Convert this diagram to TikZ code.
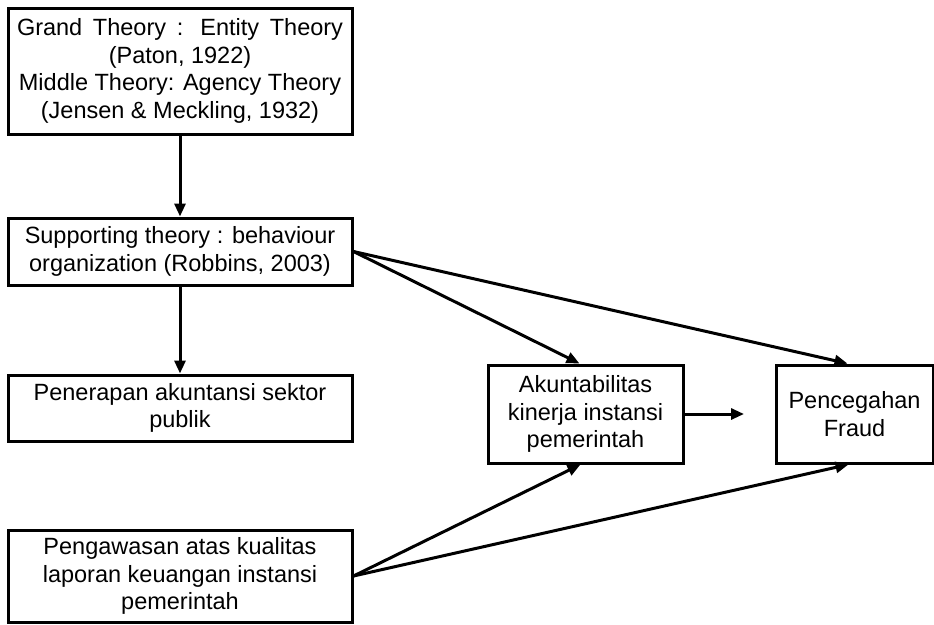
\documentclass[tikz,border=0pt]{standalone}
\usepackage{fontspec}
\setmainfont{Liberation Sans}
\usetikzlibrary{arrows.meta}
\begin{document}
\begin{tikzpicture}[x=1pt,y=1pt,
  box/.style={draw=black, line width=3pt, fill=white, inner sep=0pt, align=center,
    font=\fontsize{23.5}{27.5}\selectfont, text=black},
  conn/.style={line width=3pt, -{Triangle[length=13pt,width=11pt]}}]
\useasboundingbox (0,0) rectangle (934,-624);
\node[box, minimum width=344, minimum height=126] (grand) at (180,-71)
  {\makebox[326pt][s]{Grand Theory : Entity Theory}\\(Paton, 1922)\\Middle Theory: Agency Theory\\(Jensen \& Meckling, 1932)};
\node[box, minimum width=344, minimum height=67] (sup) at (180,-251.5)
  {Supporting theory : behaviour\\organization (Robbins, 2003)};
\node[box, minimum width=344, minimum height=66] (pen) at (180,-408)
  {Penerapan akuntansi sektor\\publik};
\node[box, minimum width=344, minimum height=92] (peng) at (180,-576)
  {Pengawasan atas kualitas\\laporan keuangan instansi\\pemerintah};
\node[box, minimum width=195, minimum height=98] (akun) at (585.5,-414)
  {Akuntabilitas\\kinerja instansi\\pemerintah};
\node[box, minimum width=157, minimum height=98] (frau) at (854.5,-414)
  {Pencegahan\\Fraud};
\coordinate (akend) at (744,-414);
\draw[conn] (grand.south) -- (sup.north);
\draw[conn] (sup.south) -- (pen.north);
\draw[conn] (sup.east) -- ([xshift=-6pt]akun.north);
\draw[conn] (sup.east) -- ([xshift=-7pt]frau.north);
\draw[conn] (peng.east) -- ([xshift=-5pt]akun.south);
\draw[conn] (peng.east) -- ([xshift=-6pt]frau.south);
\draw[conn] (akun.east) -- (akend);
\end{tikzpicture}
\end{document}
